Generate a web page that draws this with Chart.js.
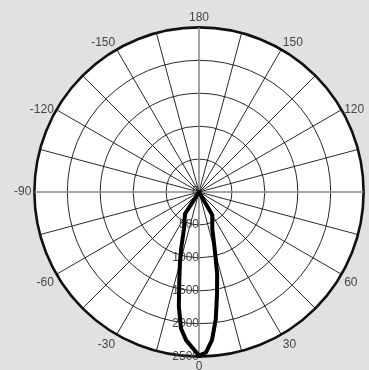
<!DOCTYPE html>
<html><head><meta charset="utf-8">
<script src="https://cdn.jsdelivr.net/npm/chart.js@4.4.1/dist/chart.umd.min.js"></script>
<style>
html,body{margin:0;padding:0;width:369px;height:370px;overflow:hidden;background:#e1e1e1;}
#wrap{position:absolute;left:-2px;top:10px;width:400px;height:365px;}
</style></head><body>
<div id="wrap"><canvas id="c"></canvas></div>
<script>
// angular sampling of the polar grid (degrees)
const angleStep = 2.5;
// beam: angle (deg, + to the right of nadir) and luminous intensity
const beamAngles = [-35,-32.5,-30,-27.5,-25,-22.5,-20,-17.5,-15,-12.5,-10,-7.5,-5,-2.5,0,2.5,5,7.5,10,12.5,15,17.5,20,22.5,25,27.5,30,32.5];
const beamIntensity = [0,395,430,473,526,595,714,900,1120,1382,1764,2091,2258,2364,2485,2440,2260,1951,1576,1273,936,724,589,527,477,436,403,0];
// angle labels that are shown round the circle (90 falls outside the picture)
const shownAngleLabels = ['180','150','120','60','30','0','-30','-60','-90','-120','-150'];
// radial ticks
const radialTickValues = [0,500,1000,1500,2000,2500];
const radialTickLabels = ['0','500','1000','1500','2000','2500'];

const n = Math.round(360 / angleStep);
const labels = [];
const values = [];
for (let i = 0; i < n; i++) {
  let a = -i * angleStep;
  if (a <= -180) a += 360;
  labels.push(String(a));
  const k = beamAngles.indexOf(a);
  values.push(k >= 0 ? beamIntensity[k] : 0);
}
const spokeEvery = Math.round(15 / angleStep);
const axisEvery = Math.round(90 / angleStep);

const radialTickPlugin = {
  id: 'radialTickLabels',
  afterLayout(chart) {
    // nudge the upper oblique angle labels so they sit level with their spokes
    const s = chart.scales.r;
    const items = s._pointLabelItems || [];
    const shift = { '120': 9, '-120': 9, '150': 3, '-150': 3 };
    items.forEach((it, i) => {
      const d = shift[s._pointLabels[i]];
      if (d) { it.y += d; it.top += d; it.bottom += d; }
    });
  },
  beforeDatasetsDraw(chart) {
    const s = chart.scales.r;
    const ctx = chart.ctx;
    ctx.save();
    ctx.font = '12px "Liberation Sans", Arial, sans-serif';
    ctx.fillStyle = '#444';
    ctx.textAlign = 'right';
    ctx.textBaseline = 'middle';
    radialTickValues.forEach((v, k) => {
      const p = s.getPointPositionForValue(0, v);
      ctx.fillText(radialTickLabels[k], p.x, p.y);
    });
    ctx.restore();
  }
};

new Chart(document.getElementById('c'), {
  type: 'radar',
  data: {
    labels: labels,
    datasets: [{
      data: values,
      borderColor: '#000',
      borderWidth: 4,
      borderJoinStyle: 'round',
      backgroundColor: 'rgba(0,0,0,0)',
      fill: false,
      pointRadius: 0,
      pointHoverRadius: 0,
      tension: 0
    }]
  },
  options: {
    responsive: true,
    maintainAspectRatio: false,
    animation: false,
    events: [],
    plugins: { legend: { display: false }, tooltip: { enabled: false } },
    layout: { padding: 0 },
    scales: {
      r: {
        min: 0,
        max: 2500,
        startAngle: 180,
        backgroundColor: '#ffffff',
        ticks: { display: false, stepSize: 500 },
        grid: {
          circular: true,
          color: '#111',
          lineWidth: c => (c.index === radialTickValues.length - 1 ? 2.6 : 0.9)
        },
        angleLines: {
          display: true,
          color: c => (c.index % axisEvery === 0 ? '#8a8a8a' : (c.index % spokeEvery === 0 ? '#111' : 'rgba(0,0,0,0)')),
          lineWidth: c => (c.index % axisEvery === 0 ? 1.6 : (c.index % spokeEvery === 0 ? 0.9 : 0))
        },
        pointLabels: {
          display: true,
          padding: 3,
          color: '#444',
          font: { family: '"Liberation Sans", Arial, sans-serif', size: 12 },
          callback: (label) => (shownAngleLabels.includes(label) ? label : '')
        }
      }
    }
  },
  plugins: [radialTickPlugin]
});
</script>
</body></html>
